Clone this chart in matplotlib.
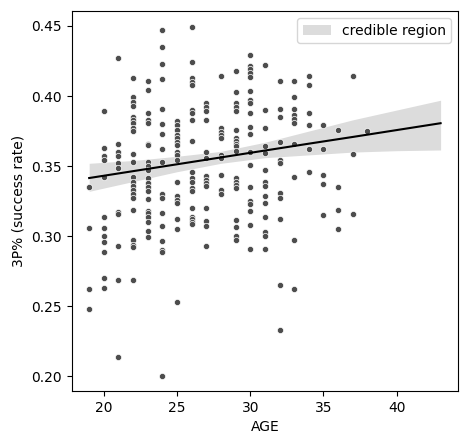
import numpy as np
import matplotlib
matplotlib.use('Agg')
import matplotlib.pyplot as plt

# 3P% of players, grouped by age
ages = [19, 20, 21, 22, 23, 24, 25, 26, 27, 28, 29, 30, 31, 32, 33, 34, 35, 36, 37, 38]
pct = [
    [0.335, 0.306, 0.262, 0.248],
    [0.389, 0.363, 0.357, 0.354, 0.342, 0.314, 0.306, 0.300, 0.296, 0.289, 0.270, 0.263],
    [0.427, 0.366, 0.360, 0.357, 0.352, 0.349, 0.317, 0.316, 0.293, 0.269, 0.214],
    [0.413, 0.399, 0.396, 0.393, 0.385, 0.383, 0.381, 0.377, 0.375, 0.3585, 0.353, 0.342,
     0.339, 0.336, 0.333, 0.330, 0.3275, 0.3187, 0.297, 0.294, 0.292, 0.269],
    [0.411, 0.404, 0.388, 0.383, 0.381, 0.366, 0.365, 0.353, 0.350, 0.347, 0.3415, 0.338,
     0.335, 0.332, 0.3265, 0.318, 0.3166, 0.3137, 0.310, 0.304, 0.2995],
    [0.447, 0.435, 0.4225, 0.412, 0.3905, 0.380, 0.373, 0.362, 0.353, 0.330, 0.3275,
     0.3166, 0.3075, 0.2967, 0.2903, 0.289, 0.200],
    [0.382, 0.379, 0.376, 0.372, 0.370, 0.3675, 0.365, 0.360, 0.358, 0.3545, 0.3386,
     0.329, 0.326, 0.3234, 0.3123, 0.305, 0.2533],
    [0.449, 0.424, 0.413, 0.410, 0.408, 0.390, 0.388, 0.383, 0.368, 0.346, 0.3415, 0.339,
     0.3344, 0.332, 0.320, 0.3137, 0.3123, 0.310, 0.3085],
    [0.395, 0.3924, 0.389, 0.383, 0.360, 0.356, 0.3426, 0.340, 0.338, 0.3355, 0.320,
     0.311, 0.307, 0.293],
    [0.414, 0.377, 0.3746, 0.3723, 0.370, 0.358, 0.3557, 0.344, 0.333, 0.330],
    [0.418, 0.4026, 0.3948, 0.3924, 0.389, 0.376, 0.370, 0.368, 0.366, 0.364, 0.361,
     0.3415, 0.339, 0.3367, 0.3344, 0.3116, 0.3066, 0.300, 0.297],
    [0.429, 0.4215, 0.419, 0.4166, 0.4133, 0.4033, 0.397, 0.3948, 0.3877, 0.378, 0.373,
     0.360, 0.3507, 0.335, 0.3253, 0.323, 0.318, 0.308, 0.291],
    [0.422, 0.390, 0.377, 0.364, 0.359, 0.347, 0.3386, 0.336, 0.329, 0.324, 0.3137,
     0.303, 0.300, 0.291],
    [0.4105, 0.3905, 0.385, 0.367, 0.354, 0.352, 0.3305, 0.327, 0.3123, 0.265, 0.233],
    [0.411, 0.399, 0.391, 0.3865, 0.3834, 0.381, 0.366, 0.342, 0.297, 0.262],
    [0.414, 0.4076, 0.388, 0.379, 0.362, 0.346],
    [0.379, 0.362, 0.344, 0.337, 0.315],
    [0.376, 0.335, 0.319, 0.305],
    [0.414, 0.3585, 0.316],
    [0.375],
]

# regression line and credible band
fit_age = [19, 22, 25, 28, 31, 34, 37, 40, 43]
fit_mean = [0.3415, 0.3464, 0.3513, 0.3562, 0.3611, 0.366, 0.3708, 0.3757, 0.3806]
band_hi = [0.352, 0.354, 0.357, 0.3605, 0.367, 0.375, 0.383, 0.390, 0.397]
band_lo = [0.332, 0.339, 0.346, 0.352, 0.356, 0.358, 0.360, 0.361, 0.3615]

x = np.concatenate([[a] * len(v) for a, v in zip(ages, pct)])
y = np.concatenate(pct)

fig, ax = plt.subplots(figsize=(4.68, 4.48), dpi=100)
fig.subplots_adjust(left=0.153, right=0.979, top=0.975, bottom=0.127)

ax.fill_between(fit_age, band_lo, band_hi, color='#dcdcdc', lw=0, label='credible region')
ax.scatter(x, y, s=20, color='#4d4d4d', edgecolor='white', linewidth=0.5, zorder=3)
ax.plot(fit_age, fit_mean, color='black', lw=1.5, zorder=4)

ax.set_xlim(17.8, 44.2)
ax.set_ylim(0.1895, 0.4605)
ax.set_xticks([20, 25, 30, 35, 40])
ax.set_yticks([0.20, 0.25, 0.30, 0.35, 0.40, 0.45])
ax.set_xlabel('AGE')
ax.set_ylabel('3P% (success rate)')
ax.legend(loc='upper right')

fig.savefig('out.png', dpi=100)
